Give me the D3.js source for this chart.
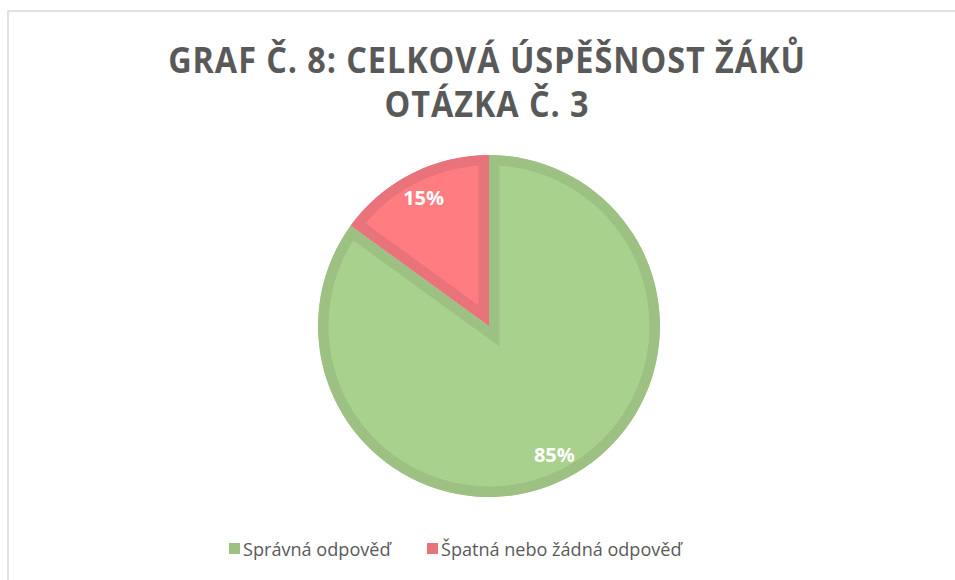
<!DOCTYPE html>
<html lang="cs">
<head>
<meta charset="utf-8">
<title>Graf č. 8</title>
<script src="https://cdn.jsdelivr.net/npm/d3@7"></script>
<style>
  body { margin: 0; background: #fff; }
  svg { display: block; }
</style>
</head>
<body>
<script>
// data
var categories = ["Správná odpověď", "Špatná nebo žádná odpověď"];
var values = [85, 15];
var titleLines = ["GRAF Č. 8: CELKOVÁ ÚSPĚŠNOST ŽÁKŮ", "OTÁZKA Č. 3"];

var fills = ["#A9D18E", "#FF7C80"];
var strokes = ["#9DC183", "#E8737A"];

var w = 955, h = 580;
var cx = 489, cy = 326, r = 171;

var svg = d3.select("body").append("svg")
    .attr("width", w)
    .attr("height", h);

// chart frame (only top and left edge visible)
svg.append("path")
   .attr("d", "M8,580 L8,11 L955,11")
   .attr("fill", "none")
   .attr("stroke", "#D9D9D9")
   .attr("stroke-width", 1.5);

// title, fitted horizontally
var titleBase = [73, 117];
var titleWidth = [638, 205];
titleLines.forEach(function(t, i) {
    var g = svg.append("g");
    var txt = g.append("text")
       .attr("x", 0)
       .attr("y", 0)
       .attr("text-anchor", "middle")
       .attr("font-family", "Open Sans")
       .attr("font-weight", "bold")
       .attr("font-size", 35)
       .attr("letter-spacing", 1)
       .attr("fill", "#595959")
       .text(t);
    var bw = txt.node().getBBox().width;
    g.attr("transform", "translate(" + 487 + "," + titleBase[i] + ") scale(" + (titleWidth[i] / bw) + ",1)");
});

// pie
var pie = d3.pie().sort(null).value(function(d) { return d; });
var arcs = pie(values);
var arc = d3.arc().innerRadius(0).outerRadius(r);
var labelArc = d3.arc().innerRadius(144).outerRadius(144);

var g = svg.append("g").attr("transform", "translate(" + cx + "," + cy + ")");
var defs = svg.append("defs");

arcs.forEach(function(a, i) {
    defs.append("clipPath")
        .attr("id", "clip" + i)
        .append("path")
        .attr("d", arc(a));
    g.append("path")
     .attr("d", arc(a))
     .attr("clip-path", "url(#clip" + i + ")")
     .attr("fill", fills[i])
     .attr("stroke", strokes[i])
     .attr("stroke-width", 21)
     .attr("stroke-linejoin", "miter");
});

// data labels
g.selectAll("text.lbl")
 .data(arcs)
 .enter()
 .append("text")
 .attr("class", "lbl")
 .attr("transform", function(d) { return "translate(" + labelArc.centroid(d) + ")"; })
 .attr("text-anchor", "middle")
 .attr("dy", "0.36em")
 .attr("font-family", "Open Sans")
 .attr("font-weight", "bold")
 .attr("font-size", 20)
 .attr("fill", "#FFFFFF")
 .text(function(d) { return d.data + "%"; });

// legend
var legendX = [229, 427];
var legendTextW = [149, 242];
var legend = svg.selectAll("g.legend")
    .data(categories)
    .enter()
    .append("g")
    .attr("class", "legend")
    .attr("transform", function(d, i) { return "translate(" + legendX[i] + ",549)"; });

legend.append("rect")
      .attr("x", 0)
      .attr("y", -6)
      .attr("width", 11)
      .attr("height", 11)
      .attr("fill", function(d, i) { return strokes[i]; });

legend.append("text")
      .attr("x", 0)
      .attr("y", 0)
      .attr("dy", "0.35em")
      .attr("font-family", "Open Sans")
      .attr("font-size", 19)
      .attr("fill", "#595959")
      .text(function(d) { return d; })
      .each(function(d, i) {
          var bw = this.getBBox().width;
          d3.select(this).attr("transform", "translate(14,0) scale(" + (legendTextW[i] / bw) + ",1)");
      });
</script>
</body>
</html>
